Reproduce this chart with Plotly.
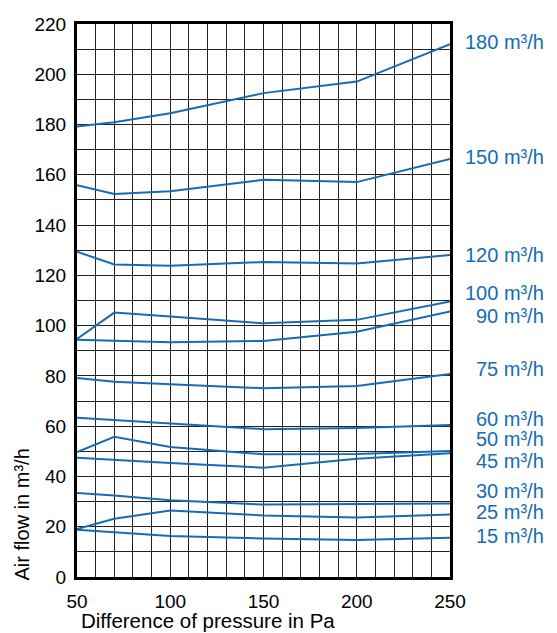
import plotly.graph_objects as go

pressure = [50, 70, 100, 150, 200, 250]

flow_180 = [179.2, 180.9, 184.5, 192.5, 197.1, 212.0]
flow_150 = [155.9, 152.4, 153.5, 158.0, 157.1, 166.3]
flow_120 = [129.4, 124.3, 123.8, 125.3, 124.7, 128.1]
flow_100 = [94.7, 105.2, 103.6, 100.9, 102.3, 109.6]
flow_90 = [94.4, 94.0, 93.4, 93.9, 97.6, 105.6]
flow_75 = [79.2, 77.7, 76.7, 75.1, 76.0, 80.8]
flow_60 = [63.4, 62.5, 61.0, 58.8, 59.3, 60.5]
flow_50 = [49.7, 55.8, 51.7, 48.8, 48.9, 50.1]
flow_45 = [47.4, 46.7, 45.4, 43.5, 47.0, 49.2]
flow_30 = [33.4, 32.4, 30.5, 28.8, 29.0, 29.2]
flow_25 = [19.1, 23.2, 26.5, 24.5, 23.7, 24.9]
flow_15 = [18.8, 17.8, 16.3, 15.3, 14.7, 15.6]

series = [flow_180, flow_150, flow_120, flow_100, flow_90, flow_75,
          flow_60, flow_50, flow_45, flow_30, flow_25, flow_15]

label_texts = ["180 m³/h", "150 m³/h", "120 m³/h", "100 m³/h", "90 m³/h", "75 m³/h",
               "60 m³/h", "50 m³/h", "45 m³/h", "30 m³/h", "25 m³/h", "15 m³/h"]
label_y = [212.9, 166.9, 128.1, 112.9, 103.9, 82.8, 62.9, 54.8, 46.2, 34.3, 25.7, 16.4]

x_ticks = [50, 100, 150, 200, 250]
y_ticks = list(range(0, 221, 20))

BLUE = "#166cb4"
FONT = "Liberation Sans, Arial, sans-serif"

fig = go.Figure()
for s in series:
    fig.add_trace(go.Scatter(x=pressure, y=s, mode="lines",
                             line=dict(color=BLUE, width=2), showlegend=False,
                             hoverinfo="skip"))

for t, yv in zip(label_texts, label_y):
    fig.add_annotation(x=1.257, xref="paper", y=yv, yref="y", text=t,
                       showarrow=False, xanchor="right", yanchor="middle",
                       font=dict(family=FONT, size=20, color=BLUE))

fig.add_annotation(x=0.008, xref="paper", y=-0.1004, yref="paper",
                   text="Difference of pressure in Pa", showarrow=False,
                   xanchor="left", yanchor="bottom", borderpad=0,
                   font=dict(family=FONT, size=20.5, color="black"))
fig.add_annotation(x=-0.1488, xref="paper", y=-0.009, yref="paper",
                   text="Air flow in m³/h", showarrow=False, textangle=-90,
                   xanchor="center", yanchor="bottom",
                   font=dict(family=FONT, size=20, color="black"))

axis_common = dict(showline=True, linewidth=3, linecolor="black", mirror=True,
                   showgrid=True, gridcolor="#222", gridwidth=1, zeroline=False,
                   ticks="", tickfont=dict(family=FONT, size=19, color="black"))

fig.update_xaxes(range=[50, 250], tickvals=x_ticks,
                 minor=dict(dtick=10, tick0=50, showgrid=True, gridcolor="#222", gridwidth=1),
                 ticklabelstandoff=5, **axis_common)
fig.update_yaxes(range=[0, 220], tickvals=y_ticks,
                 minor=dict(dtick=10, tick0=0, showgrid=True, gridcolor="#222", gridwidth=1),
                 ticklabelstandoff=4, **axis_common)

fig.update_layout(width=557, height=633,
                  margin=dict(l=77, r=107, t=24, b=56, pad=0),
                  plot_bgcolor="white", paper_bgcolor="white",
                  font=dict(family=FONT))

fig.write_html("out.html", config={"displayModeBar": False},
               post_script="document.body.style.margin='0';document.body.style.overflow='hidden';")
